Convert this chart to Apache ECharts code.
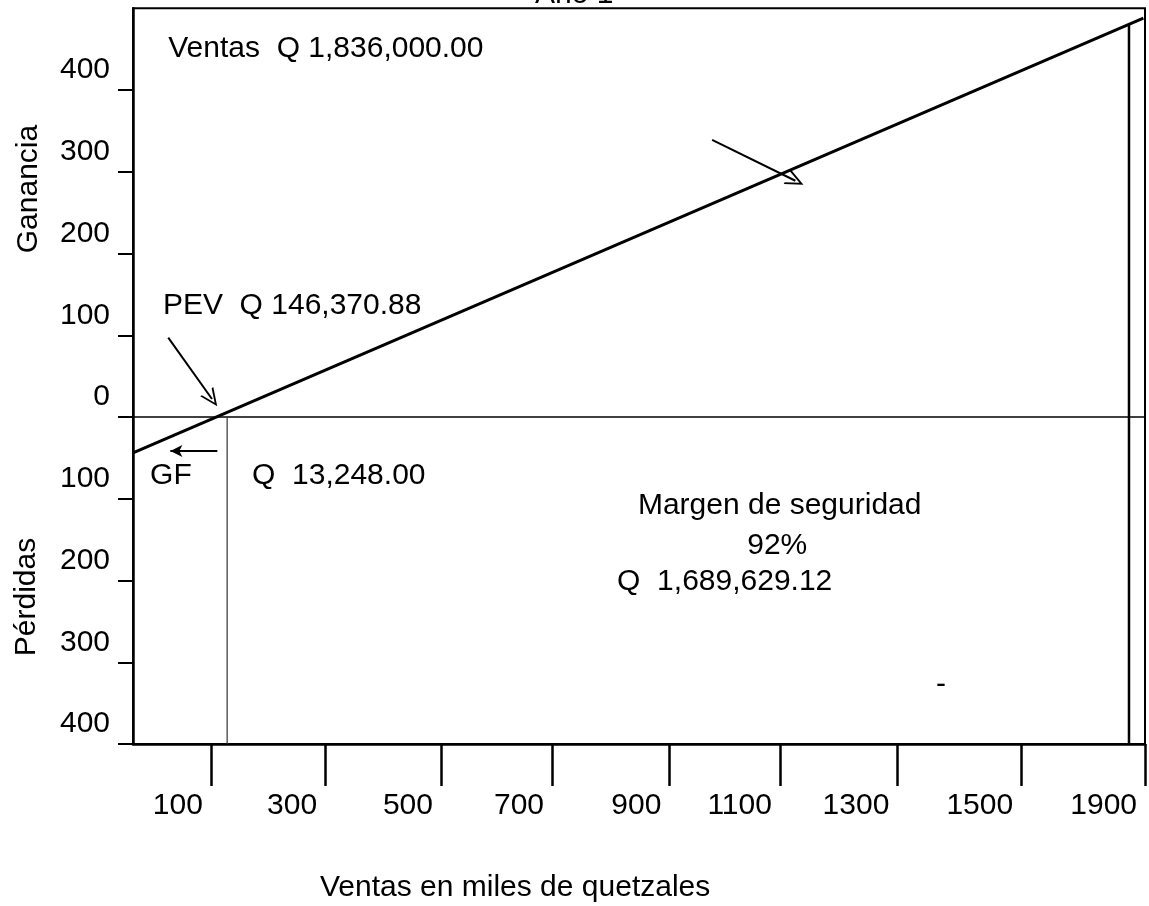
<!DOCTYPE html>
<html><head><meta charset="utf-8">
<script src="https://cdn.jsdelivr.net/npm/echarts@6/dist/echarts.min.js"></script>
<style>html,body{margin:0;padding:0;background:#fff}#c{width:1149px;height:906px}</style>
</head><body><div id="c"></div>
<script>
const FONT = '"Liberation Sans", Arial, sans-serif';

// --- data (x in miles de quetzales as drawn, y in miles) ---
const xTickValues = [116, 330, 547, 755, 975, 1182, 1402, 1634, 1866];
const xTickLabels = ['100', '300', '500', '700', '900', '1100', '1300', '1500', '1900'];
const yTickValues = [-400, -300, -200, -100, 0, 100, 200, 300, 400];
const yTickLabels = ['400', '300', '200', '100', '0', '100', '200', '300', '400'];
const profitLineX = [-30, 1863];
const profitLineY = [-44, 488];
const breakEvenSales = 146.37;
const totalSales = 1836;
const profitAtTotalSales = 480;
const lossFloor = -400;
const annotationTexts = ['Ventas  Q 1,836,000.00', 'PEV  Q 146,370.88', 'GF', 'Q  13,248.00',
  'Margen de seguridad', '92%', 'Q  1,689,629.12', '-'];
const titleText = 'Año 1';
const xTitle = 'Ventas en miles de quetzales';
const yTitleTop = 'Ganancia';
const yTitleBottom = 'Pérdidas';

const X_MIN = -30, X_MAX = 1866, Y_MIN = -400, Y_MAX = 500;

const chart = echarts.init(document.getElementById('c'), null, {renderer: 'canvas'});

const txt = {fontSize: 30, fontFamily: FONT, color: '#000'};
const chevron = 'path://M0,20 L10,0 L20,20 L17.5,20 L10,5 L2.5,20 Z';

const annPos = [
  {c: [36, 450], align: 'left'},
  {c: [26, 136], align: 'left'},
  {c: [2, -72], align: 'left'},
  {c: [193, -72], align: 'left'},
  {c: [916, -108], align: 'left'},
  {c: [1177, -157], align: 'center'},
  {c: [877, -202], align: 'left'},
  {c: [1484, -327], align: 'center'}
];

const option = {
  animation: false,
  backgroundColor: '#fff',
  grid: {left: 133, right: 4, top: 8.25, bottom: 162, show: true, borderColor: '#000', borderWidth: 2},
  xAxis: {
    type: 'value', min: X_MIN, max: X_MAX,
    axisLine: {show: true, onZero: false, lineStyle: {color: '#000', width: 2.5}},
    axisTick: {show: true, customValues: xTickValues, length: 42, lineStyle: {color: '#000', width: 2.5}},
    axisLabel: Object.assign({
      customValues: xTickValues,
      formatter: v => xTickLabels[xTickValues.indexOf(v)] ?? '',
      align: 'right', padding: [0, 8, 0, 0], margin: 47,
      showMinLabel: true, showMaxLabel: true
    }, txt),
    splitLine: {show: false}
  },
  yAxis: {
    type: 'value', min: Y_MIN, max: Y_MAX,
    axisLine: {show: true, onZero: false, lineStyle: {color: '#000', width: 2.5}},
    axisTick: {show: true, customValues: yTickValues, length: 15, lineStyle: {color: '#000', width: 2}},
    axisLabel: Object.assign({
      customValues: yTickValues,
      formatter: v => yTickLabels[yTickValues.indexOf(v)] ?? '',
      margin: 23, verticalAlign: 'bottom', padding: [0, 0, 5, 0],
      showMinLabel: true, showMaxLabel: true
    }, txt),
    splitLine: {show: false}
  },
  graphic: [
    {type: 'text', left: 535, top: -20, style: {text: titleText, font: '30px ' + FONT, fill: '#000'}},
    {type: 'text', x: 29, y: 189, rotation: Math.PI / 2,
      style: {text: yTitleTop, font: '30px ' + FONT, fill: '#000', align: 'center', verticalAlign: 'middle'}},
    {type: 'text', x: 27, y: 597, rotation: Math.PI / 2,
      style: {text: yTitleBottom, font: '30px ' + FONT, fill: '#000', align: 'center', verticalAlign: 'middle'}},
    {type: 'text', x: 320, y: 888,
      style: {text: xTitle, font: '30px ' + FONT, fill: '#000', align: 'left', verticalAlign: 'middle'}}
  ],
  series: [
    {
      type: 'line', name: 'Ganancia/Pérdida', symbol: 'none', silent: true,
      data: profitLineX.map((x, i) => [x, profitLineY[i]]),
      lineStyle: {color: '#000', width: 3}
    },
    {
      type: 'line', name: 'cero', symbol: 'none', silent: true,
      data: [[X_MIN, 0], [X_MAX, 0]],
      lineStyle: {color: '#000', width: 1.5}
    },
    {
      type: 'line', name: 'PEV', symbol: 'none', silent: true,
      data: [[breakEvenSales, 0], [breakEvenSales, lossFloor]],
      lineStyle: {color: '#333', width: 1.2}
    },
    {
      type: 'line', name: 'Ventas', symbol: 'none', silent: true,
      data: [[totalSales, profitAtTotalSales], [totalSales, lossFloor]],
      lineStyle: {color: '#000', width: 2.5}
    },
    {
      type: 'scatter', name: 'anotaciones', symbolSize: 0, silent: true,
      itemStyle: {opacity: 1, color: '#000'},
      data: annotationTexts.map((t, i) => ({
        name: t, value: annPos[i].c,
        label: {align: annPos[i].align}
      })),
      label: Object.assign({show: true, position: 'inside', verticalAlign: 'middle', opacity: 1,
        textBorderWidth: 0, formatter: p => p.name}, txt),
      markLine: {
        silent: true, animation: false,
        label: {show: false},
        lineStyle: {color: '#000', width: 2, type: 'solid', opacity: 1},
        data: [
          [{coord: [1055, 339], symbol: 'none'}, {coord: [1211, 289], symbol: chevron, symbolSize: [16, 18]}],
          [{coord: [36, 97], symbol: 'none'}, {coord: [118, 22], symbol: chevron, symbolSize: [16, 18]}],
          [{coord: [128, -41.6], symbol: 'none'}, {coord: [40, -41.6], symbol: 'arrow', symbolSize: [9, 12]}]
        ]
      }
    }
  ]
};
chart.setOption(option);
</script></body></html>
